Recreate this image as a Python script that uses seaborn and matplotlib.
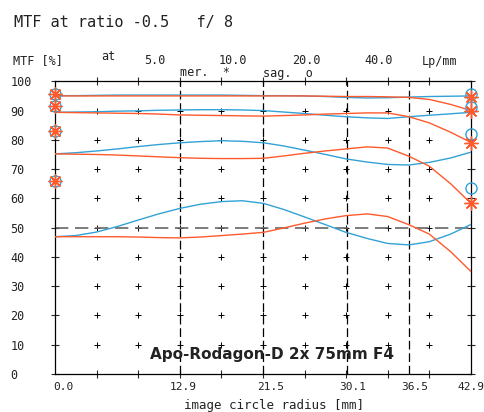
import numpy as np
import pandas as pd
import matplotlib
matplotlib.use("Agg")
import matplotlib.pyplot as plt
import matplotlib.transforms as mtransforms
import seaborn as sns

# image circle radius [mm] where the curves were read
radius = [0.0, 2.15, 4.29, 6.44, 8.58, 10.7, 12.9, 15.0, 17.2, 19.3, 21.5,
          23.6, 25.7, 27.9, 30.0, 32.2, 34.3, 36.5, 38.6, 40.8, 42.9]

# sagittal (o) curves, MTF in %
sag_5 = [95.1, 95.1, 95.2, 95.3, 95.3, 95.3, 95.3, 95.3, 95.3, 95.2, 95.1,
         95.1, 95.0, 94.8, 94.5, 94.3, 94.4, 94.6, 94.8, 94.9, 95.0]
sag_10 = [89.4, 89.5, 89.6, 89.8, 89.9, 90.1, 90.2, 90.3, 90.3, 90.2, 90.0,
          89.5, 89.0, 88.4, 87.9, 87.5, 87.3, 87.9, 88.4, 88.9, 89.4]
sag_20 = [75.2, 75.6, 76.2, 76.9, 77.7, 78.4, 79.0, 79.4, 79.7, 79.5, 79.0,
          77.9, 76.5, 75.0, 73.5, 72.4, 71.6, 71.4, 72.3, 73.8, 75.8]
sag_40 = [46.9, 47.3, 48.5, 50.4, 52.6, 54.7, 56.6, 58.0, 58.9, 59.2, 58.3,
          56.2, 53.7, 51.0, 48.4, 46.3, 44.6, 44.1, 45.2, 47.8, 51.1]

# meridional (*) curves
mer_5 = [95.0, 95.0, 95.0, 95.0, 95.0, 95.0, 95.0, 95.0, 95.0, 95.0, 95.0,
         95.0, 95.0, 94.9, 94.8, 94.8, 94.7, 94.5, 93.8, 92.1, 90.0]
mer_10 = [89.4, 89.3, 89.2, 89.1, 89.0, 88.8, 88.5, 88.4, 88.3, 88.2, 88.1,
          88.3, 88.5, 88.8, 89.0, 89.2, 89.2, 87.9, 85.8, 82.6, 79.1]
mer_20 = [75.2, 75.1, 75.0, 74.8, 74.5, 74.2, 73.9, 73.7, 73.6, 73.6, 73.7,
          74.5, 75.4, 76.2, 76.9, 77.6, 77.2, 74.4, 71.0, 65.0, 58.3]
mer_40 = [46.9, 46.9, 46.9, 46.9, 46.8, 46.6, 46.5, 46.8, 47.3, 47.8, 48.4,
          49.9, 51.5, 53.0, 54.1, 54.7, 53.8, 51.0, 47.8, 41.8, 35.0]

# symbols drawn on the left and right edges
edge_x = [0.0, 42.9]
left_marks = [95.6, 91.6, 83.0, 66.0]
right_sag_marks = [95.5, 91.1, 82.0, 63.7]
right_mer_marks = [94.8, 90.0, 78.8, 58.3]

freqs = ["5.0", "10.0", "20.0", "40.0"]
xtick_vals = [0.0, 12.9, 21.5, 30.1, 36.5, 42.9]
xtick_labels = ["0.0", "12.9", "21.5", "30.1", "36.5", "42.9"]
dashed_x = [12.9, 21.5, 30.1, 36.5]

ORANGE = "#ff5a2c"
BLUE = "#32a2d6"
INK = "#222222"

rows = []
for f, s, m in zip(freqs, [sag_5, sag_10, sag_20, sag_40],
                   [mer_5, mer_10, mer_20, mer_40]):
    for r, vs, vm in zip(radius, s, m):
        rows.append({"r": r, "mtf": vs, "curve": "sag " + f})
        rows.append({"r": r, "mtf": vm, "curve": "mer " + f})
df = pd.DataFrame(rows)

sns.set_style("white")
plt.rcParams["font.family"] = ["DejaVu Sans Mono", "DejaVu Sans"]

fig = plt.figure(figsize=(4.85, 4.12), dpi=100)
ax = fig.add_axes([55 / 485, 38 / 412, 416 / 485, 292.7 / 412])

# grid crosses and reference lines
gx = np.arange(1, 10) * 4.29
gy = np.arange(10, 100, 10)
GX, GY = np.meshgrid(gx, gy)
ax.plot(GX.ravel(), GY.ravel(), "+", color="black", ms=5, mew=0.7, zorder=1)
for xv in dashed_x:
    ax.axvline(xv, color="black", lw=0.9, dashes=(7, 3), zorder=1)
ax.axhline(50, color="#666666", lw=1.2, dashes=(8, 4), zorder=1)

palette = {}
for f in freqs:
    palette["sag " + f] = BLUE
    palette["mer " + f] = ORANGE
sns.lineplot(data=df, x="r", y="mtf", hue="curve", palette=palette,
             lw=1.0, legend=False, ax=ax, zorder=3, estimator=None, sort=False)

# edge symbols
for v in left_marks:
    ax.plot(edge_x[0], v, "o", mfc="none", mec=BLUE, ms=8, mew=1.0, clip_on=False, zorder=4)
    ax.plot(edge_x[0], v, marker=(8, 2, 0), color=ORANGE, ms=10, mew=1.0, clip_on=False, zorder=5)
for vs, vm in zip(right_sag_marks, right_mer_marks):
    ax.plot(edge_x[1], vs, "o", mfc="none", mec=BLUE, ms=8, mew=1.0, clip_on=False, zorder=4)
    ax.plot(edge_x[1], vm, marker=(8, 2, 0), color=ORANGE, ms=10, mew=1.0, clip_on=False, zorder=5)

ax.set_xlim(0, 42.9)
ax.set_ylim(0, 100)
for sp in ax.spines.values():
    sp.set_color("black")
    sp.set_linewidth(0.9)

ax.set_xticks(xtick_vals)
ax.set_xticklabels(xtick_labels, fontsize=8, color=INK)
ax.set_xticks(np.arange(0, 11) * 4.29, minor=True)
ax.set_yticks(np.arange(0, 101, 10))
ax.set_yticklabels([str(v) for v in range(0, 101, 10)], fontsize=8.5, color=INK)
ax.tick_params(axis="x", which="major", length=0, pad=6)
ax.tick_params(axis="x", which="minor", direction="inout", length=6, width=0.8,
               top=True, bottom=True)
ax.tick_params(axis="y", which="major", direction="inout", length=6, width=0.8,
               left=True, right=True, pad=29)
for lab in ax.get_yticklabels():
    lab.set_horizontalalignment("left")
# the plotter labels sit a little right of their ticks
for lab, dx in zip(ax.get_xticklabels(), [8, 3, 7, 6, 6, 0]):
    off = mtransforms.ScaledTranslation(dx / 100, 0, fig.dpi_scale_trans)
    lab.set_transform(lab.get_transform() + off)

ax.set_xlabel("")
ax.set_ylabel("")
fig.text(274 / 485, 1 - 405 / 412, "image circle radius [mm]", fontsize=9,
         va="center", ha="center", color=INK)

# header texts
fig.text(14 / 485, 1 - 22 / 412, "MTF at ratio -0.5   f/ 8", fontsize=11,
         va="center", ha="left", color=INK)
fig.text(13 / 485, 1 - 61 / 412, "MTF [%]", fontsize=8.5, va="center", ha="left", color=INK)
fig.text(108 / 485, 1 - 56 / 412, "at", fontsize=8.5, va="center", ha="center", color=INK)
for f, cx in zip(freqs, [155, 233, 306, 379]):
    fig.text(cx / 485, 1 - 61 / 412, f, fontsize=8.5, va="center", ha="center", color=INK)
fig.text(440 / 485, 1 - 61 / 412, "Lp/mm", fontsize=8.5, va="center", ha="center", color=INK)
fig.text(180 / 485, 1 - 73 / 412, "mer.  *", fontsize=8.5, va="center", ha="left", color=INK)
fig.text(263 / 485, 1 - 73 / 412, "sag.  o", fontsize=8.5, va="center", ha="left", color=INK)

fig.text(272 / 485, 1 - 355 / 412, "Apo-Rodagon-D 2x 75mm F4", fontsize=11,
         fontweight="bold", family="DejaVu Sans", va="center", ha="center", color=INK)

fig.savefig("out.png", dpi=100)
